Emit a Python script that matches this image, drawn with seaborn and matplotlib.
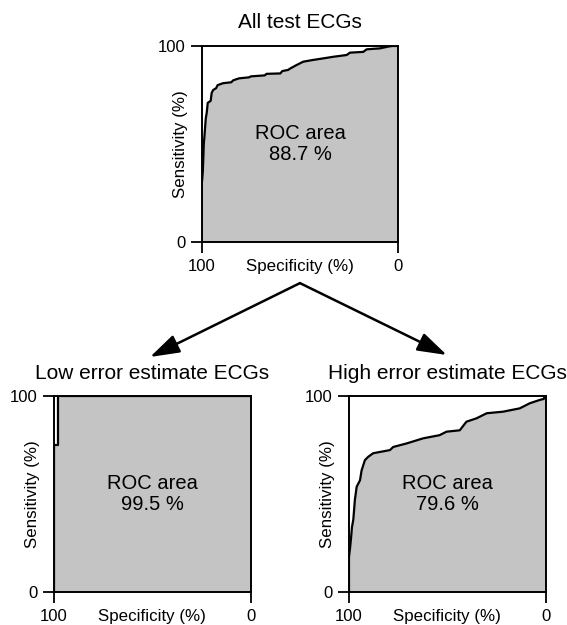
import seaborn as sns
import pandas as pd
import matplotlib.pyplot as plt
from matplotlib.patches import FancyArrowPatch

# ROC curves: false positive rate (%) = 100 - specificity, sensitivity (%)
all_fpr = [0, 0, 0.5, 1, 1.4, 2, 2.5, 3, 4.5, 5, 5.7, 7.3, 8, 10.7, 15, 16, 19, 24, 25,
           32, 33, 40, 41, 44, 45, 48.3, 51.7, 56.8, 62, 67, 73.8, 75.5, 82.3, 84, 90.8,
           95, 97, 100]
all_sens = [0, 30, 36, 50, 55, 63, 66, 71, 72, 76, 77.5, 78.5, 80, 81, 81.5, 82.5, 83.5,
            84, 84.5, 85, 85.8, 86, 87.2, 87.8, 88.5, 90.3, 92, 92.9, 93.7, 94.5, 95.4,
            96.6, 97, 98.3, 98.8, 99.7, 100, 100]

low_fpr = [0, 0, 2, 2, 100]
low_sens = [0, 75, 75, 100, 100]

high_fpr = [0, 0, 0.5, 1, 1.5, 2.2, 3, 3.9, 5.6, 6.4, 8.1, 9.8, 12.3, 20.8, 22.5, 29.3,
            37.7, 46, 49.6, 56.3, 59.7, 64.8, 70, 78.3, 86.8, 91.9, 97, 99, 99.5, 100]
high_sens = [0, 18, 22, 27, 33, 37, 47, 53.7, 57, 62, 67.3, 69, 70.8, 72.4, 74, 75.8,
             78.4, 80, 81.8, 82.5, 86.9, 88.6, 91.2, 92, 93.7, 96.3, 98, 98.5, 100, 100]

titles = ["All test ECGs", "Low error estimate ECGs", "High error estimate ECGs"]
roc_areas = ["88.7", "99.5", "79.6"]

sns.set_style("ticks")
plt.rcParams["font.family"] = ["Liberation Sans", "DejaVu Sans"]
plt.rcParams["axes.linewidth"] = 1.4
for k in ["text.color", "axes.labelcolor", "xtick.color", "ytick.color", "axes.edgecolor"]:
    plt.rcParams[k] = "black"

fig = plt.figure(figsize=(5.67, 6.25), dpi=100)
axes = [
    fig.add_axes([0.356, 0.6128, 0.346, 0.3136]),
    fig.add_axes([0.0952, 0.0528, 0.347, 0.3136]),
    fig.add_axes([0.6155, 0.0528, 0.347, 0.3136]),
]
curves = [(all_fpr, all_sens), (low_fpr, low_sens), (high_fpr, high_sens)]
pads = [13, 12, 12]

for ax, (fpr, sens), title, area, pad in zip(axes, curves, titles, roc_areas, pads):
    df = pd.DataFrame({"spec": [100 - v for v in fpr], "sens": sens})
    ax.fill_between(df["spec"], df["sens"], color="#c4c4c4", lw=0)
    sns.lineplot(data=df, x="spec", y="sens", sort=False, estimator=None,
                 color="black", lw=1.6, ax=ax)
    ax.set_xlim(100, 0)
    ax.set_ylim(0, 100)
    ax.set_xticks([100, 0], ["100", "0"])
    ax.set_yticks([0, 100], ["0", "100"])
    ax.tick_params(length=8, width=1.3, pad=4, labelsize=12)
    ax.set_xlabel("Specificity (%)", fontsize=12.2)
    ax.set_ylabel("Sensitivity (%)", fontsize=12.2)
    ax.xaxis.set_label_coords(0.5, -0.088)
    ax.xaxis.label.set_va("top")
    ax.yaxis.set_label_coords(-0.11, 0.5)
    ax.yaxis.label.set_va("center")
    ax.set_title(title, fontsize=15, pad=pad)
    ax.text(0.5, 0.5, f"ROC area\n{area} %", transform=ax.transAxes,
            ha="center", va="center", fontsize=14.5, linespacing=1.1)

# arrows from the top panel to the two subsets
for tip in [(0.2646, 0.4288), (0.788, 0.432)]:
    fig.add_artist(FancyArrowPatch((0.529, 0.547), tip, transform=fig.transFigure,
                                   arrowstyle="-|>,head_length=1.0,head_width=0.32",
                                   mutation_scale=18, color="black", lw=1.8,
                                   shrinkA=0, shrinkB=0))

fig.savefig("out.png", dpi=100)
